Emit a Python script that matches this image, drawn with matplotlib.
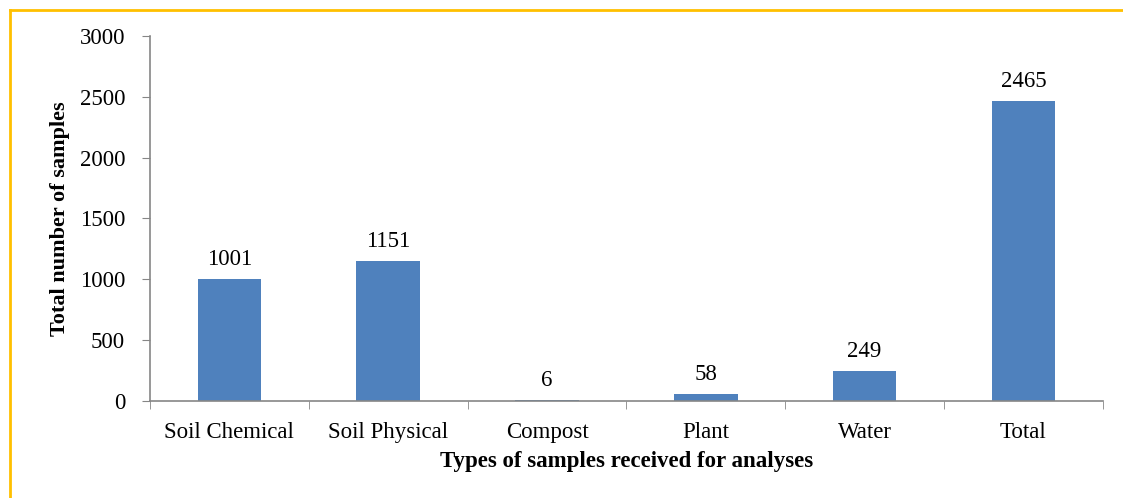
import numpy as np
import matplotlib.pyplot as plt
from matplotlib.lines import Line2D

categories = ['Soil Chemical', 'Soil Physical', 'Compost', 'Plant', 'Water', 'Total']
samples = [1001, 1151, 6, 58, 249, 2465]

plt.rcParams['font.family'] = ['Liberation Serif', 'DejaVu Serif']
fs = 16.5

fig = plt.figure(figsize=(11.23, 4.98), dpi=100)
ax = fig.add_axes([0.1336, 0.1948, 0.8484, 0.7329])

x = np.arange(len(categories))
bars = ax.bar(x, samples, width=0.4, color='#4F81BD')
for xi, v in zip(x, samples):
    ax.text(xi, v + 75, str(v), ha='center', va='bottom', fontsize=fs)

ax.set_xlim(-0.5, len(categories) - 0.5)
ax.set_ylim(0, 3000)
ax.set_yticks(np.arange(0, 3001, 500))
ax.tick_params(axis='y', labelsize=fs, color='#868686', length=6, direction='out', pad=12)

# category labels centred, tick marks between categories
ax.set_xticks(x)
ax.set_xticklabels(categories, fontsize=fs)
ax.tick_params(axis='x', length=0, pad=15)
ax.set_xticks(np.arange(-0.5, len(categories)), minor=True)
ax.tick_params(axis='x', which='minor', length=6, color='#868686', direction='out')

for s in ['top', 'right']:
    ax.spines[s].set_visible(False)
for s in ['left', 'bottom']:
    ax.spines[s].set_color('#868686')
    ax.spines[s].set_linewidth(1.2)

ax.set_ylabel('Total number of samples', fontsize=16, fontweight='bold', labelpad=7)
ax.set_xlabel('Types of samples received for analyses', fontsize=16.5, fontweight='bold', labelpad=6)

# frame around the figure
fig.add_artist(Line2D([0.0089, 1.0], [0.98, 0.98], transform=fig.transFigure,
                      color='#FFC000', lw=2))
fig.add_artist(Line2D([0.0089, 0.0089], [0.0, 0.98], transform=fig.transFigure,
                      color='#FFC000', lw=2))

fig.savefig('out.png', dpi=100)
